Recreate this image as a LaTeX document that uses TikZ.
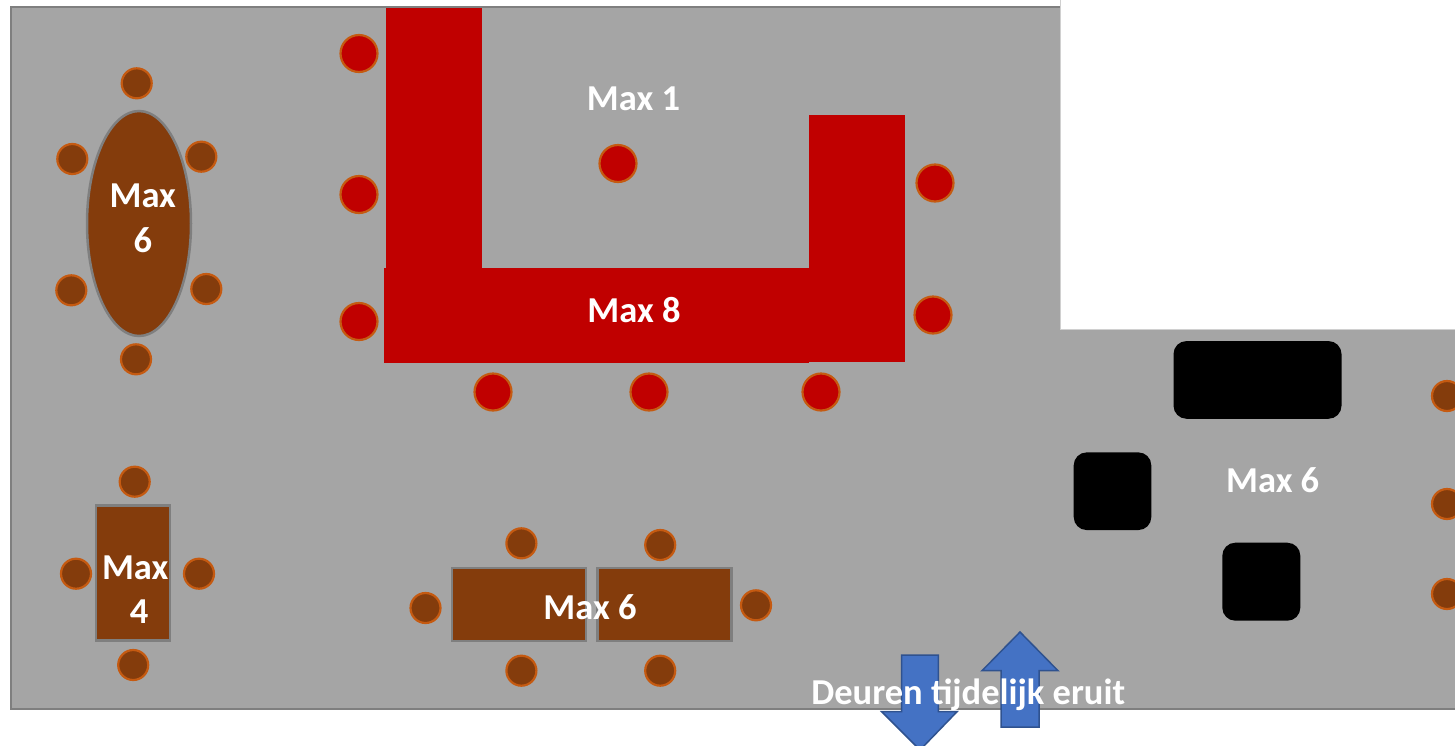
\documentclass[tikz,border=0pt]{standalone}
\usepackage{fontspec}
\setmainfont{Carlito}
\usetikzlibrary{shapes.geometric}
\definecolor{floorgray}{HTML}{A5A5A5}
\definecolor{edgegray}{HTML}{7F7F7F}
\definecolor{barred}{HTML}{C00000}
\definecolor{chairedge}{HTML}{C55A11}
\definecolor{wood}{HTML}{843C0C}
\definecolor{arrowblue}{HTML}{4472C4}
\definecolor{arrowedge}{HTML}{2F528F}
\definecolor{stepline}{HTML}{D0D0D0}
\tikzset{
  redchair/.style={circle, fill=barred, draw=chairedge, line width=2.2pt, minimum size=37pt, inner sep=0pt},
  brownchair/.style={circle, fill=wood, draw=chairedge, line width=2.2pt, minimum size=30pt, inner sep=0pt},
  redbar/.style={rectangle, fill=barred, inner sep=0pt},
  woodtable/.style={rectangle, fill=wood, draw=edgegray, line width=2.5pt, inner sep=0pt},
  woodoval/.style={ellipse, fill=wood, draw=edgegray, line width=2.5pt, inner sep=0pt},
  blackblock/.style={rectangle, fill=black, rounded corners=13pt, inner sep=0pt},
  whitelabel/.style={text=white, font=\fontsize{36.5}{42}\selectfont\bfseries, inner sep=0pt, anchor=base},
  doorarrow/.style={fill=arrowblue, draw=arrowedge, line width=1.5pt, line join=miter},
}
\begin{document}
\begin{tikzpicture}[x=1pt,y=-1pt]
\useasboundingbox (0,0) rectangle (1455,745);
\fill[white] (0,0) rectangle (1455,745);
% floor
\fill[floorgray] (11,7) rectangle (1470,709);
\draw[edgegray, line width=2pt] (1470,7) -- (11,7) -- (11,709) -- (1470,709);
\filldraw[fill=white, draw=stepline, line width=1pt] (1060,-10) rectangle (1470,329);

% red bar (U shape)
\node[redbar, minimum width=96pt, minimum height=260pt] (barleft) at (434,138) {};
\node[redbar, minimum width=425pt, minimum height=95pt] (barbottom) at (596.5,315.5) {};
\node[redbar, minimum width=96pt, minimum height=247pt] (barright) at (857,238.5) {};

% red chairs
\node[redchair] (rc1) at (359,53.5) {};
\node[redchair] (rc2) at (359,194.5) {};
\node[redchair] (rc3) at (359,321.5) {};
\node[redchair] (rc4) at (618,163.5) {};
\node[redchair] (rc5) at (935,183) {};
\node[redchair] (rc6) at (933,315) {};
\node[redchair] (rc7) at (493,392) {};
\node[redchair] (rc8) at (649,392) {};
\node[redchair] (rc9) at (821,392) {};

% oval table
\node[woodoval, minimum width=104pt, minimum height=225pt] (oval) at (139,223.5) {};
\node[brownchair] (oc1) at (136.7,83.3) {};
\node[brownchair] (oc2) at (72.3,159) {};
\node[brownchair] (oc3) at (201.3,156.7) {};
\node[brownchair] (oc4) at (71.3,290.3) {};
\node[brownchair] (oc5) at (206.3,289) {};
\node[brownchair] (oc6) at (136,359.3) {};

% table for 4
\node[woodtable, minimum width=74pt, minimum height=135pt] (t4) at (133.2,573) {};
\node[brownchair] (fc1) at (134.7,481.7) {};
\node[brownchair] (fc2) at (76,573.7) {};
\node[brownchair] (fc3) at (199,573.7) {};
\node[brownchair] (fc4) at (133.2,665) {};

% two tables for 6
\node[woodtable, minimum width=134pt, minimum height=73pt] (t6a) at (519,604.5) {};
\node[woodtable, minimum width=134pt, minimum height=73pt] (t6b) at (664.3,604.5) {};
\node[brownchair] (sc1) at (521.4,543.3) {};
\node[brownchair] (sc2) at (660.2,545) {};
\node[brownchair] (sc3) at (425.5,608) {};
\node[brownchair] (sc4) at (756,605.3) {};
\node[brownchair] (sc5) at (521.4,670.7) {};
\node[brownchair] (sc6) at (660.2,670.7) {};

% black blocks
\node[blackblock, minimum width=168pt, minimum height=77.7pt] (bb1) at (1257.5,379.9) {};
\node[blackblock, minimum width=77.6pt, minimum height=77.7pt] (bb2) at (1112.5,491.2) {};
\node[blackblock, minimum width=78pt, minimum height=78pt] (bb3) at (1261.3,581.7) {};

% chairs at right edge
\node[brownchair] (ec1) at (1447,396) {};
\node[brownchair] (ec2) at (1447,504) {};
\node[brownchair] (ec3) at (1447,594) {};

% door arrows
\draw[doorarrow] (901.7,655) -- (938.3,655) -- (938.3,711.7) -- (957,711.7) -- (920,750) -- (881.7,711.7) -- (901.7,711.7) -- cycle;
\draw[doorarrow] (1001,727) -- (1001,670.7) -- (982,670.7) -- (1020,632) -- (1058,670.7) -- (1039,670.7) -- (1039,727) -- cycle;

% labels
\node[whitelabel] (lmax1) at (633.5,110.7) {Max 1};
\node[whitelabel] (lmax8) at (634,322.7) {Max 8};
\node[whitelabel] (lovala) at (142.8,207.3) {Max};
\node[whitelabel] (lovalb) at (142.9,252.3) {6};
\node[whitelabel] (lfoura) at (135.2,579) {Max};
\node[whitelabel] (lfourb) at (139,623.3) {4};
\node[whitelabel] (lsix) at (590,619.3) {Max 6};
\node[whitelabel] (lright) at (1272.7,492.3) {Max 6};
\node[whitelabel] (ldoor) at (968.3,704) {Deuren tijdelijk eruit};
\end{tikzpicture}
\end{document}
